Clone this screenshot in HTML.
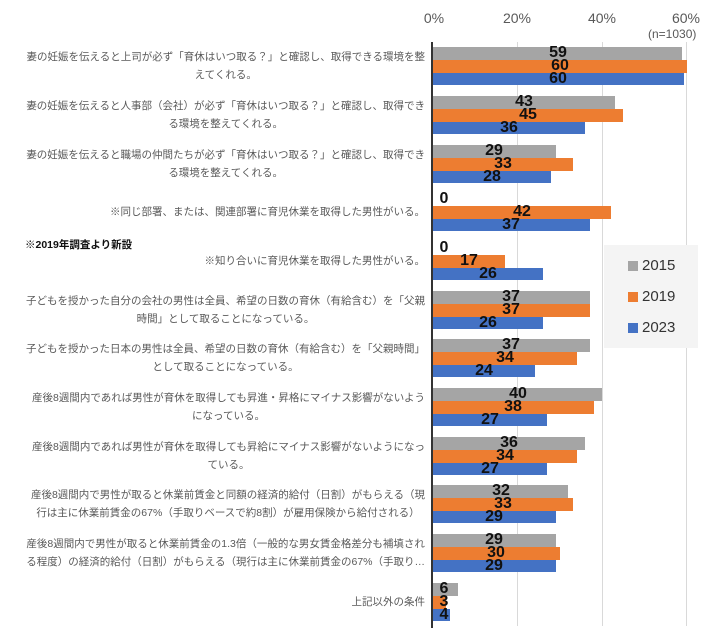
<!DOCTYPE html>
<html><head><meta charset="utf-8"><style>
body{margin:0;width:708px;height:628px;background:#fff;position:relative;overflow:hidden;font-family:"Liberation Sans","Noto Sans CJK JP",sans-serif}
.t{position:absolute;font-size:14px;color:#595959;transform:translateX(-50%);top:10px}
.g{position:absolute;top:42px;height:584px;width:1px;background:#d9d9d9}
.lab{position:absolute;right:283px;font-size:10.5px;line-height:18px;color:#595959;text-align:center;white-space:nowrap;transform:translateY(-50%)}
.grp{position:absolute;left:433px}
.b{height:12.8px;position:relative}
.b span{position:absolute;top:-2px;font-weight:bold;font-size:16px;line-height:16px;color:#111;transform:translateX(-50%)}
.s15{background:#a5a5a5}.s19{background:#ed7d31}.s23{background:#4472c4}
</style></head><body>
<div class="t" style="left:434px">0%</div>
<div class="t" style="left:517px">20%</div>
<div class="t" style="left:602px">40%</div>
<div class="t" style="left:686px">60%</div>
<div style="position:absolute;left:648px;top:27px;font-size:12px;color:#595959">(n=1030)</div>
<div class="g" style="left:517px"></div><div class="g" style="left:602px"></div><div class="g" style="left:686px"></div>
<div style="position:absolute;left:431px;top:42px;width:2px;height:586px;background:#333"></div>

<div class="lab" style="top:66px">妻の妊娠を伝えると上司が必ず「育休はいつ取る？」と確認し、取得できる環境を整<br>えてくれる。</div>
<div class="lab" style="top:115px">妻の妊娠を伝えると人事部（会社）が必ず「育休はいつ取る？」と確認し、取得でき<br>る環境を整えてくれる。</div>
<div class="lab" style="top:164px">妻の妊娠を伝えると職場の仲間たちが必ず「育休はいつ取る？」と確認し、取得でき<br>る環境を整えてくれる。</div>
<div class="lab" style="top:212px">※同じ部署、または、関連部署に育児休業を取得した男性がいる。</div>
<div style="position:absolute;left:25px;top:237px;font-size:10.5px;font-weight:bold;color:#111">※2019年調査より新設</div>
<div class="lab" style="top:261px">※知り合いに育児休業を取得した男性がいる。</div>
<div class="lab" style="top:310px">子どもを授かった自分の会社の男性は全員、希望の日数の育休（有給含む）を「父親<br>時間」として取ることになっている。</div>
<div class="lab" style="top:358px">子どもを授かった日本の男性は全員、希望の日数の育休（有給含む）を「父親時間」<br>として取ることになっている。</div>
<div class="lab" style="top:407px">産後8週間内であれば男性が育休を取得しても昇進・昇格にマイナス影響がないよう<br>になっている。</div>
<div class="lab" style="top:456px">産後8週間内であれば男性が育休を取得しても昇給にマイナス影響がないようになっ<br>ている。</div>
<div class="lab" style="top:504px">産後8週間内で男性が取ると休業前賃金と同額の経済的給付（日割）がもらえる（現<br>行は主に休業前賃金の67%（手取りベースで約8割）が雇用保険から給付される）</div>
<div class="lab" style="top:553px">産後8週間内で男性が取ると休業前賃金の1.3倍（一般的な男女賃金格差分も補填され<br>る程度）の経済的給付（日割）がもらえる（現行は主に休業前賃金の67%（手取り…</div>
<div class="lab" style="top:602px">上記以外の条件</div>

<div class="grp" style="top:47px"><div class="b s15" style="width:249px"><span style="left:125px">59</span></div><div class="b s19" style="width:254px"><span style="left:127px">60</span></div><div class="b s23" style="width:251px"><span style="left:125px">60</span></div></div>
<div class="grp" style="top:96px"><div class="b s15" style="width:182px"><span style="left:91px">43</span></div><div class="b s19" style="width:190px"><span style="left:95px">45</span></div><div class="b s23" style="width:152px"><span style="left:76px">36</span></div></div>
<div class="grp" style="top:145px"><div class="b s15" style="width:123px"><span style="left:61px">29</span></div><div class="b s19" style="width:140px"><span style="left:70px">33</span></div><div class="b s23" style="width:118px"><span style="left:59px">28</span></div></div>
<div class="grp" style="top:193px"><div class="b" style="width:0"><span style="left:11px">0</span></div><div class="b s19" style="width:178px"><span style="left:89px">42</span></div><div class="b s23" style="width:157px"><span style="left:78px">37</span></div></div>
<div class="grp" style="top:242px"><div class="b" style="width:0"><span style="left:11px">0</span></div><div class="b s19" style="width:72px"><span style="left:36px">17</span></div><div class="b s23" style="width:110px"><span style="left:55px">26</span></div></div>
<div class="grp" style="top:291px"><div class="b s15" style="width:157px"><span style="left:78px">37</span></div><div class="b s19" style="width:157px"><span style="left:78px">37</span></div><div class="b s23" style="width:110px"><span style="left:55px">26</span></div></div>
<div class="grp" style="top:339px"><div class="b s15" style="width:157px"><span style="left:78px">37</span></div><div class="b s19" style="width:144px"><span style="left:72px">34</span></div><div class="b s23" style="width:102px"><span style="left:51px">24</span></div></div>
<div class="grp" style="top:388px"><div class="b s15" style="width:169px"><span style="left:85px">40</span></div><div class="b s19" style="width:161px"><span style="left:80px">38</span></div><div class="b s23" style="width:114px"><span style="left:57px">27</span></div></div>
<div class="grp" style="top:437px"><div class="b s15" style="width:152px"><span style="left:76px">36</span></div><div class="b s19" style="width:144px"><span style="left:72px">34</span></div><div class="b s23" style="width:114px"><span style="left:57px">27</span></div></div>
<div class="grp" style="top:485px"><div class="b s15" style="width:135px"><span style="left:68px">32</span></div><div class="b s19" style="width:140px"><span style="left:70px">33</span></div><div class="b s23" style="width:123px"><span style="left:61px">29</span></div></div>
<div class="grp" style="top:534px"><div class="b s15" style="width:123px"><span style="left:61px">29</span></div><div class="b s19" style="width:127px"><span style="left:63px">30</span></div><div class="b s23" style="width:123px"><span style="left:61px">29</span></div></div>
<div class="grp" style="top:583px"><div class="b s15" style="width:25px"><span style="left:11px">6</span></div><div class="b s19" style="width:13px"><span style="left:11px">3</span></div><div class="b s23" style="width:17px"><span style="left:11px">4</span></div></div>

<div style="position:absolute;left:604px;top:245px;width:94px;height:103px;background:#f4f4f4"></div>
<div style="position:absolute;left:628px;top:261px;width:10px;height:10px;background:#a5a5a5"></div>
<div style="position:absolute;left:642px;top:257px;font-size:15px;color:#333">2015</div>
<div style="position:absolute;left:628px;top:292px;width:10px;height:10px;background:#ed7d31"></div>
<div style="position:absolute;left:642px;top:288px;font-size:15px;color:#333">2019</div>
<div style="position:absolute;left:628px;top:323px;width:10px;height:10px;background:#4472c4"></div>
<div style="position:absolute;left:642px;top:319px;font-size:15px;color:#333">2023</div>
</body></html>
